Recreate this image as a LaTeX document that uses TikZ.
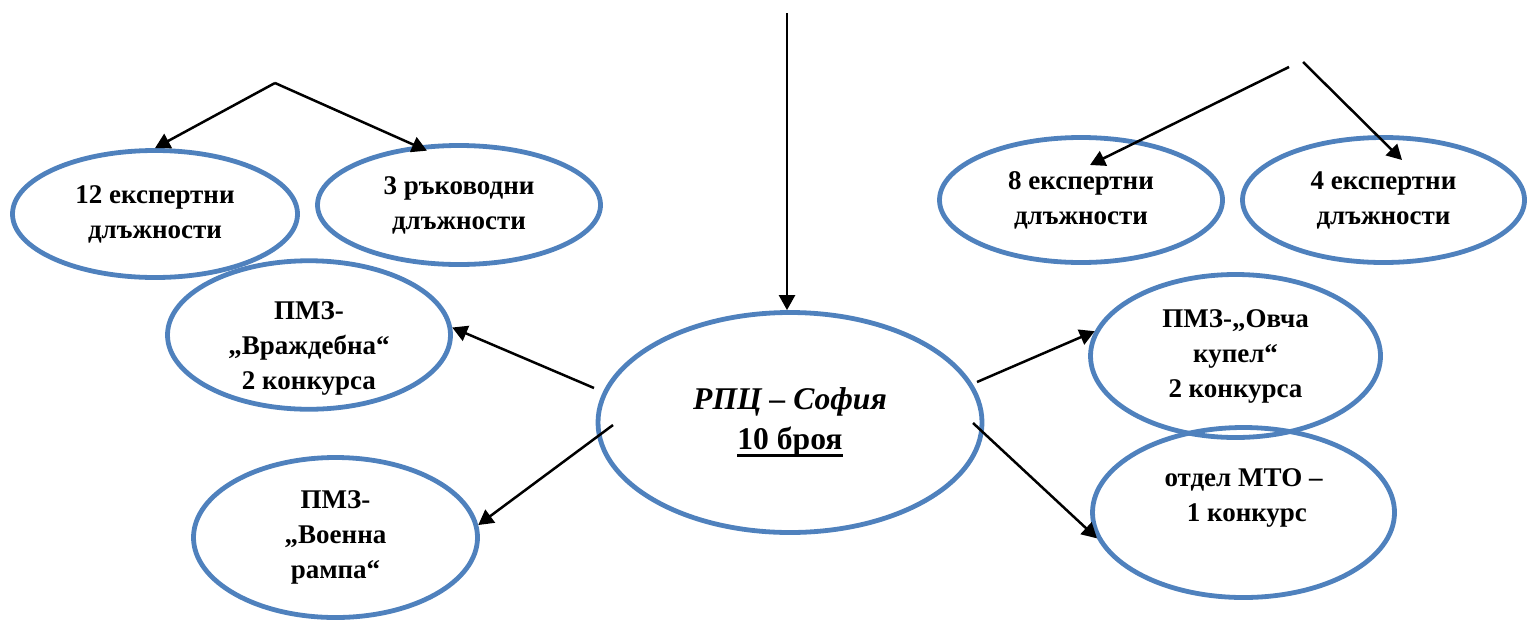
\documentclass[tikz,border=0pt]{standalone}
\usepackage{fontspec}
\setmainfont{Liberation Serif}
\usetikzlibrary{shapes.geometric,arrows.meta}
\definecolor{ellblue}{RGB}{79,129,189}
% heavier underline, as in the original
\newcommand{\thickul}[1]{\setbox0\hbox{#1}\rlap{\rule[-3.5pt]{\wd0}{1.5pt}}\box0}
% text set a little lower than the middle of its bubble
\newcommand{\lowtext}[1]{\raisebox{-6pt}[\height][\depth]{\begin{tabular}{@{}c@{}}#1\end{tabular}}}

\begin{document}
\begin{tikzpicture}[x=0.5pt, y=-0.5pt,
    bubble/.style 2 args={ellipse, draw=ellblue, line width=2.4pt, inner sep=0pt,
        minimum width=#1pt, minimum height=#2pt, align=center,
        font=\bfseries\fontsize{13.5}{17.5}\selectfont},
    arr/.style={-{Triangle[length=7.5pt,width=8pt]}, line width=1.25pt}]
    \useasboundingbox (0,0) rectangle (1529,627);

    % Centre
    \node[bubble={192}{110}, font=\bfseries\fontsize{15.8}{20}\selectfont] (rpc) at (790,422.5)
        {\textit{РПЦ – София}\\\thickul{10 броя}};

    % Left group
    \node[bubble={142.5}{63.5}] (exp12) at (155,214) {12 експертни\\длъжности};
    \node[bubble={141.5}{59.5}] (lead3) at (459,205) {3 ръководни\\длъжности};
    \node[bubble={141.5}{67.5}] (vrazh) at (309,335) {\lowtext{ПМЗ-\\„Враждебна“\\2 конкурса}};
    \node[bubble={142}{80}] (voenna) at (335.5,537.5) {ПМЗ-\\„Военна\\рампа“};

    % Right group
    \node[bubble={141.5}{62.5}] (exp8) at (1081,200) {8 експертни\\длъжности};
    \node[bubble={141}{62.5}] (exp4) at (1383.5,200) {4 експертни\\длъжности};
    \node[bubble={145}{81.5}] (ovcha) at (1235.5,356) {ПМЗ-„Овча\\купел“\\2 конкурса};
    \node[bubble={151}{85}] (mto) at (1243.5,512.5) {отдел МТО –\\\ 1 конкурс\\\mbox{}};

    % Free ends of the connectors
    \coordinate (top) at (787,13);
    \coordinate (splitL) at (275,83);
    \coordinate (splitR1) at (1289,67);
    \coordinate (splitR2) at (1303,62);
    \coordinate (cL1) at (594,388);
    \coordinate (cL2) at (613,425);
    \coordinate (cR1) at (977,382);
    \coordinate (cR2) at (973,423);

    % Arrow down into the centre
    \draw[arr] (top) -- (top |- rpc.north);

    % Top splits
    \draw[arr] (splitL) -- (exp12.north);
    \draw[arr] (splitL) -- ([yshift=-3pt]lead3.118);
    \draw[arr] (splitR1) -- ([shift={(9,-35)}]exp8.center);
    \draw[arr] (splitR2) -- ([shift={(18.5,-40)}]exp4.center);

    % Out of the centre
    \draw[arr] (cL1) -- (vrazh.3);
    \draw[arr] (cL2) -- (voenna.5);
    \draw[arr] (cR1) -- (ovcha.170);
    \draw[arr] (cR2) -- (mto.190);
\end{tikzpicture}
\end{document}
